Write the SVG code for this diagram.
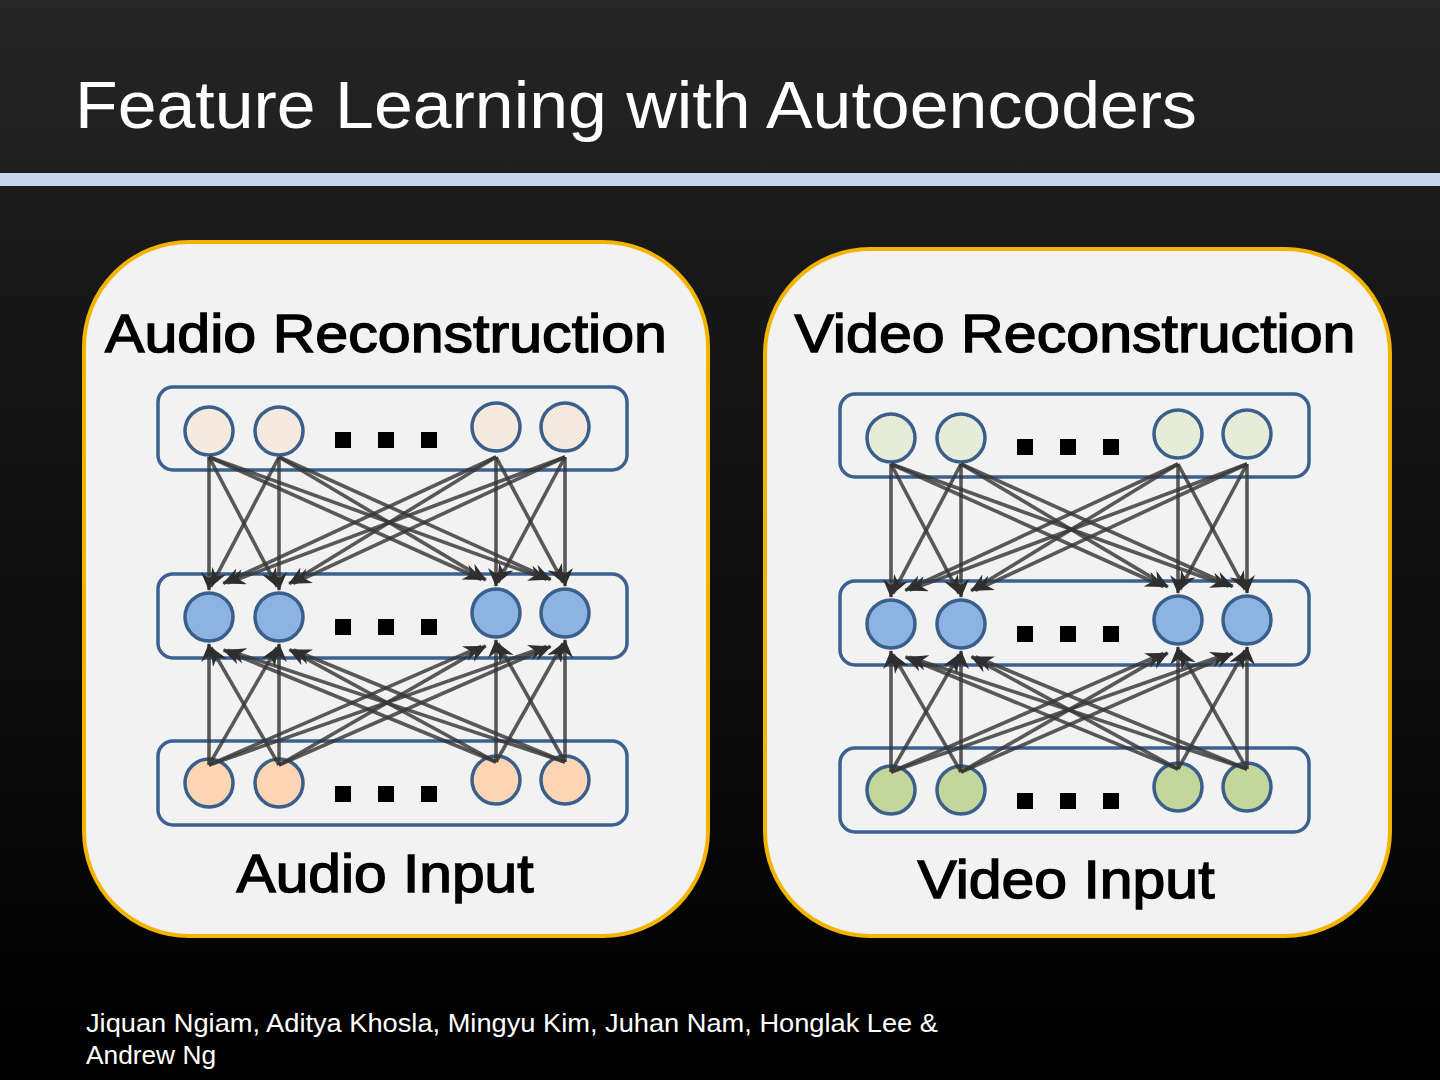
<svg xmlns="http://www.w3.org/2000/svg" width="1440" height="1080" viewBox="0 0 1440 1080">
<defs>
<linearGradient id="bodyGrad" x1="0" y1="0" x2="0" y2="1">
<stop offset="0" stop-color="#202020"/>
<stop offset="1" stop-color="#000000"/>
</linearGradient>
<linearGradient id="headGrad" x1="0" y1="0" x2="0" y2="1">
<stop offset="0" stop-color="#262626"/>
<stop offset="1" stop-color="#1f1f1f"/>
</linearGradient>
<pattern id="hatchA" width="4" height="4" patternUnits="userSpaceOnUse">
<rect width="4" height="4" fill="#f6ece2"/>
<path d="M0,4 L4,0" stroke="#ecdccd" stroke-width="0.6"/>
</pattern>
<pattern id="hatchV" width="4" height="4" patternUnits="userSpaceOnUse">
<rect width="4" height="4" fill="#e8eddc"/>
<path d="M0,4 L4,0" stroke="#d6dfc6" stroke-width="0.6"/>
</pattern>
<marker id="arr" markerUnits="userSpaceOnUse" markerWidth="19" markerHeight="16" viewBox="0 0 19 16" refX="18" refY="8" orient="auto">
<path d="M0,0 L19,8 L0,16 L6,8 Z" fill="#2e2e2e"/>
</marker>
</defs>
<style>
.panel{fill:#f2f2f2;stroke:#f2b400;stroke-width:4}
.layer{fill:none;stroke:#3c6190;stroke-width:3.5}
.n{stroke:#3a5f8b;stroke-width:3.5}
.atop{fill:url(#hatchA)}
.vtop{fill:url(#hatchV)}
.hid{fill:#8db3e2}
.ain{fill:#fcd5b5}
.vin{fill:#c3d69b}
.dot{fill:#000}
.c line{stroke:#363636;stroke-opacity:0.82;stroke-width:3.6;marker-end:url(#arr)}
.lbl{font-family:"Liberation Sans",Arial,sans-serif;font-weight:normal;font-size:53px;fill:#000;stroke:#000;stroke-width:1.4;text-anchor:middle}
</style>
<rect x="0" y="0" width="1440" height="1080" fill="url(#bodyGrad)"/>
<rect x="0" y="0" width="1440" height="172" fill="url(#headGrad)"/>
<rect x="0" y="173" width="1440" height="13" fill="#c5d5ec"/>
<text x="75" y="128" font-family="Liberation Sans, Arial, sans-serif" font-size="67" fill="#ffffff" textLength="1122" lengthAdjust="spacingAndGlyphs">Feature Learning with Autoencoders</text>

<g id="audio-panel">
<rect class="panel" x="84" y="242" width="624" height="694" rx="105" ry="105"/>
<text class="lbl" x="386" y="352" textLength="562" lengthAdjust="spacingAndGlyphs">Audio Reconstruction</text>
<text class="lbl" x="385" y="892" textLength="297" lengthAdjust="spacingAndGlyphs">Audio Input</text>
</g>
<g id="video-panel">
<rect class="panel" x="765" y="249" width="625" height="687" rx="105" ry="105"/>
<text class="lbl" x="1075" y="352" textLength="561" lengthAdjust="spacingAndGlyphs">Video Reconstruction</text>
<text class="lbl" x="1066" y="898" textLength="297" lengthAdjust="spacingAndGlyphs">Video Input</text>
</g>

<g id="audio-net">
<g id="a-recon-layer">
<rect class="layer" x="158" y="387" width="469" height="83" rx="15"/>
<g id="a-r1"><circle class="n atop" cx="209" cy="431" r="24"/></g>
<g id="a-r2"><circle class="n atop" cx="279" cy="431" r="24"/></g>
<g id="a-r3"><circle class="n atop" cx="496" cy="427" r="24"/></g>
<g id="a-r4"><circle class="n atop" cx="565" cy="427" r="24"/></g>
<rect class="dot" x="335" y="432" width="16" height="16"/><rect class="dot" x="378" y="432" width="16" height="16"/><rect class="dot" x="421" y="432" width="16" height="16"/>
</g>
<g id="a-hidden-layer">
<rect class="layer" x="158" y="574" width="469" height="84" rx="15"/>
<g id="a-h1"><circle class="n hid" cx="209" cy="617" r="24"/></g>
<g id="a-h2"><circle class="n hid" cx="279" cy="617" r="24"/></g>
<g id="a-h3"><circle class="n hid" cx="496" cy="613" r="24"/></g>
<g id="a-h4"><circle class="n hid" cx="565" cy="613" r="24"/></g>
<rect class="dot" x="335" y="619" width="16" height="16"/><rect class="dot" x="378" y="619" width="16" height="16"/><rect class="dot" x="421" y="619" width="16" height="16"/>
</g>
<g id="a-input-layer">
<rect class="layer" x="158" y="741" width="469" height="84" rx="15"/>
<g id="a-i1"><circle class="n ain" cx="209" cy="783" r="24"/></g>
<g id="a-i2"><circle class="n ain" cx="279" cy="783" r="24"/></g>
<g id="a-i3"><circle class="n ain" cx="496" cy="780" r="24"/></g>
<g id="a-i4"><circle class="n ain" cx="565" cy="780" r="24"/></g>
<rect class="dot" x="335" y="786" width="16" height="16"/><rect class="dot" x="378" y="786" width="16" height="16"/><rect class="dot" x="421" y="786" width="16" height="16"/>
</g>
</g>

<g id="video-net" transform="translate(682,7)">
<g id="v-recon-layer">
<rect class="layer" x="158" y="387" width="469" height="83" rx="15"/>
<g id="v-r1"><circle class="n vtop" cx="209" cy="431" r="24"/></g>
<g id="v-r2"><circle class="n vtop" cx="279" cy="431" r="24"/></g>
<g id="v-r3"><circle class="n vtop" cx="496" cy="427" r="24"/></g>
<g id="v-r4"><circle class="n vtop" cx="565" cy="427" r="24"/></g>
<rect class="dot" x="335" y="432" width="16" height="16"/><rect class="dot" x="378" y="432" width="16" height="16"/><rect class="dot" x="421" y="432" width="16" height="16"/>
</g>
<g id="v-hidden-layer">
<rect class="layer" x="158" y="574" width="469" height="84" rx="15"/>
<g id="v-h1"><circle class="n hid" cx="209" cy="617" r="24"/></g>
<g id="v-h2"><circle class="n hid" cx="279" cy="617" r="24"/></g>
<g id="v-h3"><circle class="n hid" cx="496" cy="613" r="24"/></g>
<g id="v-h4"><circle class="n hid" cx="565" cy="613" r="24"/></g>
<rect class="dot" x="335" y="619" width="16" height="16"/><rect class="dot" x="378" y="619" width="16" height="16"/><rect class="dot" x="421" y="619" width="16" height="16"/>
</g>
<g id="v-input-layer">
<rect class="layer" x="158" y="741" width="469" height="84" rx="15"/>
<g id="v-i1"><circle class="n vin" cx="209" cy="783" r="24"/></g>
<g id="v-i2"><circle class="n vin" cx="279" cy="783" r="24"/></g>
<g id="v-i3"><circle class="n vin" cx="496" cy="780" r="24"/></g>
<g id="v-i4"><circle class="n vin" cx="565" cy="780" r="24"/></g>
<rect class="dot" x="335" y="786" width="16" height="16"/><rect class="dot" x="378" y="786" width="16" height="16"/><rect class="dot" x="421" y="786" width="16" height="16"/>
</g>
</g>

<g id="connectors">
<g id="audio-connectors" class="c">
<line x1="209" y1="457" x2="209" y2="590"/>
<line x1="209" y1="457" x2="277.2" y2="586.6"/>
<line x1="209" y1="457" x2="481.6" y2="579.5"/>
<line x1="209" y1="457" x2="546.6" y2="579.3"/>
<line x1="279" y1="457" x2="210.8" y2="586.6"/>
<line x1="279" y1="457" x2="279" y2="590"/>
<line x1="279" y1="457" x2="485.8" y2="579.9"/>
<line x1="279" y1="457" x2="550.7" y2="579.5"/>
<line x1="496" y1="457" x2="223.3" y2="583.4"/>
<line x1="496" y1="457" x2="289.2" y2="583.8"/>
<line x1="496" y1="457" x2="496" y2="586"/>
<line x1="496" y1="457" x2="563.2" y2="582.6"/>
<line x1="565" y1="457" x2="227.4" y2="583.1"/>
<line x1="565" y1="457" x2="293.2" y2="583.4"/>
<line x1="565" y1="457" x2="497.8" y2="582.6"/>
<line x1="565" y1="457" x2="565" y2="586"/>
<line x1="209" y1="765" x2="209" y2="644"/>
<line x1="209" y1="765" x2="277.1" y2="647.3"/>
<line x1="209" y1="765" x2="481.5" y2="646.3"/>
<line x1="209" y1="765" x2="546.5" y2="646.5"/>
<line x1="279" y1="765" x2="210.9" y2="647.3"/>
<line x1="279" y1="765" x2="279" y2="644"/>
<line x1="279" y1="765" x2="485.7" y2="645.9"/>
<line x1="279" y1="765" x2="550.6" y2="646.3"/>
<line x1="496" y1="762" x2="223.6" y2="650"/>
<line x1="496" y1="762" x2="289.5" y2="649.7"/>
<line x1="496" y1="762" x2="496" y2="640"/>
<line x1="496" y1="762" x2="563.1" y2="643.3"/>
<line x1="565" y1="762" x2="227.6" y2="650.2"/>
<line x1="565" y1="762" x2="293.5" y2="650"/>
<line x1="565" y1="762" x2="497.9" y2="643.3"/>
<line x1="565" y1="762" x2="565" y2="640"/>
</g>
<g id="video-connectors" class="c" transform="translate(682,7)">
<line x1="209" y1="457" x2="209" y2="590"/>
<line x1="209" y1="457" x2="277.2" y2="586.6"/>
<line x1="209" y1="457" x2="481.6" y2="579.5"/>
<line x1="209" y1="457" x2="546.6" y2="579.3"/>
<line x1="279" y1="457" x2="210.8" y2="586.6"/>
<line x1="279" y1="457" x2="279" y2="590"/>
<line x1="279" y1="457" x2="485.8" y2="579.9"/>
<line x1="279" y1="457" x2="550.7" y2="579.5"/>
<line x1="496" y1="457" x2="223.3" y2="583.4"/>
<line x1="496" y1="457" x2="289.2" y2="583.8"/>
<line x1="496" y1="457" x2="496" y2="586"/>
<line x1="496" y1="457" x2="563.2" y2="582.6"/>
<line x1="565" y1="457" x2="227.4" y2="583.1"/>
<line x1="565" y1="457" x2="293.2" y2="583.4"/>
<line x1="565" y1="457" x2="497.8" y2="582.6"/>
<line x1="565" y1="457" x2="565" y2="586"/>
<line x1="209" y1="765" x2="209" y2="644"/>
<line x1="209" y1="765" x2="277.1" y2="647.3"/>
<line x1="209" y1="765" x2="481.5" y2="646.3"/>
<line x1="209" y1="765" x2="546.5" y2="646.5"/>
<line x1="279" y1="765" x2="210.9" y2="647.3"/>
<line x1="279" y1="765" x2="279" y2="644"/>
<line x1="279" y1="765" x2="485.7" y2="645.9"/>
<line x1="279" y1="765" x2="550.6" y2="646.3"/>
<line x1="496" y1="762" x2="223.6" y2="650"/>
<line x1="496" y1="762" x2="289.5" y2="649.7"/>
<line x1="496" y1="762" x2="496" y2="640"/>
<line x1="496" y1="762" x2="563.1" y2="643.3"/>
<line x1="565" y1="762" x2="227.6" y2="650.2"/>
<line x1="565" y1="762" x2="293.5" y2="650"/>
<line x1="565" y1="762" x2="497.9" y2="643.3"/>
<line x1="565" y1="762" x2="565" y2="640"/>
</g>
</g>

<g id="credits" font-family="Liberation Sans, Arial, sans-serif" font-size="25" fill="#ffffff">
<text x="86" y="1032" textLength="852" lengthAdjust="spacingAndGlyphs">Jiquan Ngiam, Aditya Khosla, Mingyu Kim, Juhan Nam, Honglak Lee &amp;</text>
<text x="86" y="1064" textLength="130" lengthAdjust="spacingAndGlyphs">Andrew Ng</text>
</g>
</svg>
